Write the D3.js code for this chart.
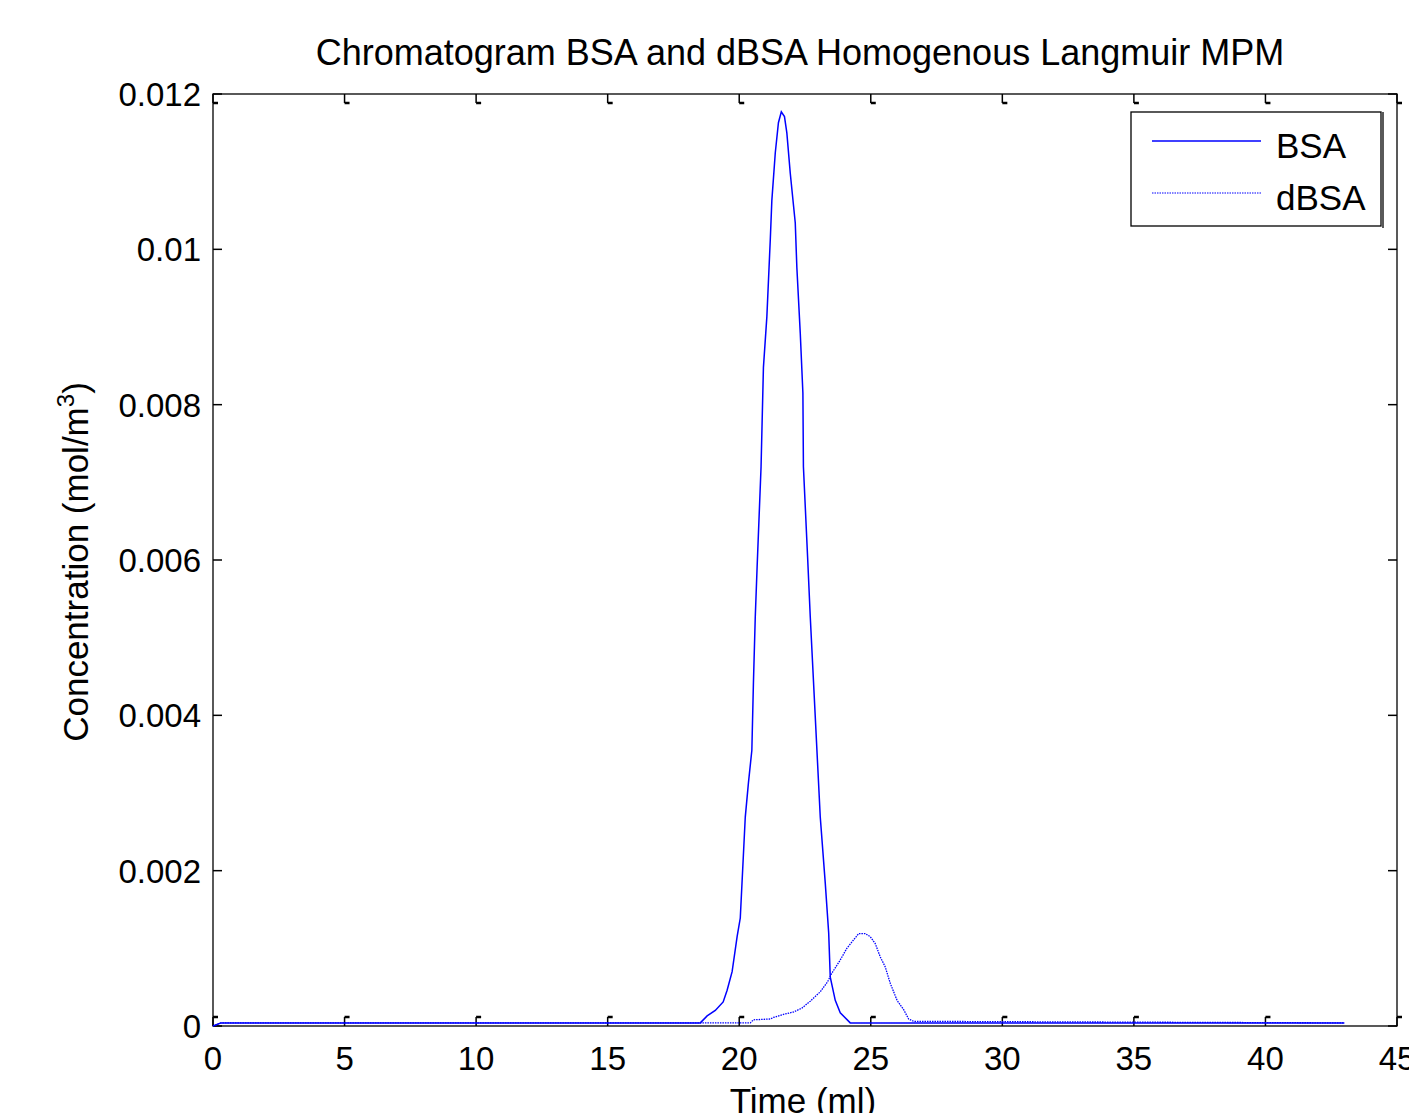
<!DOCTYPE html>
<html>
<head>
<meta charset="utf-8">
<script src="https://cdn.jsdelivr.net/npm/d3@7"></script>
<style>
  body { margin: 0; background: #fff; }
  svg { font-family: "Liberation Sans", Arial, sans-serif; }
</style>
</head>
<body>
<div id="chart"></div>
<script>
// data (time in ml, concentration in mol/m3)
var bsa_t = [0, 0.3, 18.52, 18.78, 19.09, 19.39, 19.54, 19.73, 19.92, 20.04, 20.23, 20.35, 20.48, 20.54, 20.61, 20.68,
             20.83, 20.92, 21.05, 21.18, 21.24, 21.37, 21.49, 21.60, 21.72, 21.81, 21.94, 22.13, 22.19, 22.32, 22.42,
             22.44, 22.60, 22.70, 22.89, 23.08, 23.27, 23.40, 23.46, 23.65, 23.84, 24.22, 43];
var bsa_c = [0, 0.00004, 0.00004, 0.00013, 0.0002, 0.00031, 0.00046, 0.0007, 0.00115, 0.00139, 0.00269, 0.00313, 0.00355,
             0.00442, 0.00527, 0.00591, 0.0072, 0.00848, 0.00913, 0.01012, 0.01063, 0.01124, 0.01163, 0.01177, 0.01171,
             0.0115, 0.01098, 0.01034, 0.00977, 0.00892, 0.00815, 0.0072, 0.00603, 0.00527, 0.00398, 0.00269, 0.00184,
             0.0012, 0.00063, 0.00033, 0.00017, 0.00004, 0.00004];

var dbsa_t = [0, 0.3, 20.42, 20.54, 21.18, 21.30, 21.68, 22.06, 22.38, 22.70, 23.08, 23.36, 23.52, 23.84, 24.09, 24.35,
              24.54, 24.79, 24.98, 25.17, 25.36, 25.55, 25.74, 26.00, 26.25, 26.44, 26.63, 43];
var dbsa_c = [0, 0.00004, 0.00004, 0.00008, 0.00009, 0.00011, 0.00015, 0.00018, 0.00023, 0.00032, 0.00044, 0.00057,
              0.00068, 0.00085, 0.001, 0.00111, 0.00119, 0.00119, 0.00115, 0.00106, 0.00089, 0.00076, 0.00055, 0.00033,
              0.00021, 0.00009, 0.00006, 0.00004];

var x_ticks = [0, 5, 10, 15, 20, 25, 30, 35, 40, 45];
var y_ticks = [0, 0.002, 0.004, 0.006, 0.008, 0.01, 0.012];
var y_tick_labels = ["0", "0.002", "0.004", "0.006", "0.008", "0.01", "0.012"];
var series_names = ["BSA", "dBSA"];

var width = 1409, height = 1113;
var plot_left = 213, plot_right = 1397, plot_top = 94, plot_bottom = 1026;

var svg = d3.select("#chart").append("svg")
    .attr("width", width)
    .attr("height", height);

var x = d3.scaleLinear().domain([0, 45]).range([plot_left, plot_right]);
var y = d3.scaleLinear().domain([0, 0.012]).range([plot_bottom, plot_top]);

// ticks (inward, all four sides, with the little feet matlab leaves)
var tick_len = 9;
var g_ticks = svg.append("g").attr("stroke", "#000").attr("stroke-width", 1.5);
x_ticks.forEach(function(t) {
    g_ticks.append("line").attr("x1", x(t)).attr("x2", x(t)).attr("y1", plot_bottom).attr("y2", plot_bottom - tick_len);
    g_ticks.append("line").attr("x1", x(t)).attr("x2", x(t) + 5).attr("y1", plot_bottom - tick_len).attr("y2", plot_bottom - tick_len).attr("stroke-width", 2.5);
    g_ticks.append("line").attr("x1", x(t)).attr("x2", x(t)).attr("y1", plot_top).attr("y2", plot_top + tick_len);
    g_ticks.append("line").attr("x1", x(t)).attr("x2", x(t) + 5).attr("y1", plot_top + tick_len).attr("y2", plot_top + tick_len).attr("stroke-width", 2.5);
});
y_ticks.forEach(function(v) {
    g_ticks.append("line").attr("x1", plot_left).attr("x2", plot_left + tick_len).attr("y1", y(v)).attr("y2", y(v));
    g_ticks.append("line").attr("x1", plot_right).attr("x2", plot_right - tick_len).attr("y1", y(v)).attr("y2", y(v));
});

svg.append("rect")
    .attr("x", plot_left).attr("y", plot_top)
    .attr("width", plot_right - plot_left).attr("height", plot_bottom - plot_top)
    .attr("fill", "none").attr("stroke", "#000").attr("stroke-width", 1.3);

// tick labels
svg.append("g").selectAll("text")
    .data(x_ticks).enter().append("text")
    .attr("x", function(d) { return x(d); })
    .attr("y", plot_bottom + 44)
    .attr("text-anchor", "middle")
    .attr("font-size", 33)
    .text(function(d) { return d; });

svg.append("g").selectAll("text")
    .data(y_ticks).enter().append("text")
    .attr("x", plot_left - 12)
    .attr("y", function(d) { return y(d) + 12; })
    .attr("text-anchor", "end")
    .attr("font-size", 33)
    .text(function(d, i) { return y_tick_labels[i]; });

// lines
var line = d3.line()
    .x(function(d) { return x(d[0]); })
    .y(function(d) { return y(d[1]); });

svg.append("path")
    .datum(dbsa_t.map(function(t, i) { return [t, dbsa_c[i]]; }))
    .attr("d", line)
    .attr("fill", "none")
    .attr("stroke", "#0000ff")
    .attr("stroke-width", 1.3)
    .attr("stroke-dasharray", "1.5,1");

svg.append("path")
    .datum(bsa_t.map(function(t, i) { return [t, bsa_c[i]]; }))
    .attr("d", line)
    .attr("fill", "none")
    .attr("stroke", "#0000ff")
    .attr("stroke-width", 1.5);

// title and axis labels
svg.append("text")
    .attr("x", 800).attr("y", 65)
    .attr("text-anchor", "middle")
    .attr("font-size", 36)
    .text("Chromatogram BSA and dBSA Homogenous Langmuir MPM");

svg.append("text")
    .attr("x", 803).attr("y", 1113)
    .attr("text-anchor", "middle")
    .attr("font-size", 35)
    .text("Time (ml)");

var ylab = svg.append("text")
    .attr("transform", "translate(88," + 562 + ") rotate(-90)")
    .attr("text-anchor", "middle")
    .attr("font-size", 35);
ylab.append("tspan").text("Concentration (mol/m");
ylab.append("tspan").attr("font-size", 24).attr("dy", -14).text("3");
ylab.append("tspan").attr("dy", 14).text(")");

// legend
var legend = svg.append("g");
legend.append("rect")
    .attr("x", 1131).attr("y", 112)
    .attr("width", 250).attr("height", 114)
    .attr("fill", "#fff").attr("stroke", "#000").attr("stroke-width", 1.3);
legend.append("line")
    .attr("x1", 1383).attr("x2", 1383).attr("y1", 112).attr("y2", 228)
    .attr("stroke", "#000").attr("stroke-width", 1.3);

series_names.forEach(function(name, i) {
    var ly = 141 + i * 52;
    legend.append("line")
        .attr("x1", 1152).attr("x2", 1261).attr("y1", ly).attr("y2", ly)
        .attr("stroke", "#0000ff")
        .attr("stroke-width", i === 0 ? 1.3 : 1.2)
        .attr("stroke-dasharray", i === 0 ? null : "1.5,1");
    legend.append("text")
        .attr("x", 1276).attr("y", ly + 17)
        .attr("font-size", 35)
        .text(name);
});
</script>
</body>
</html>
